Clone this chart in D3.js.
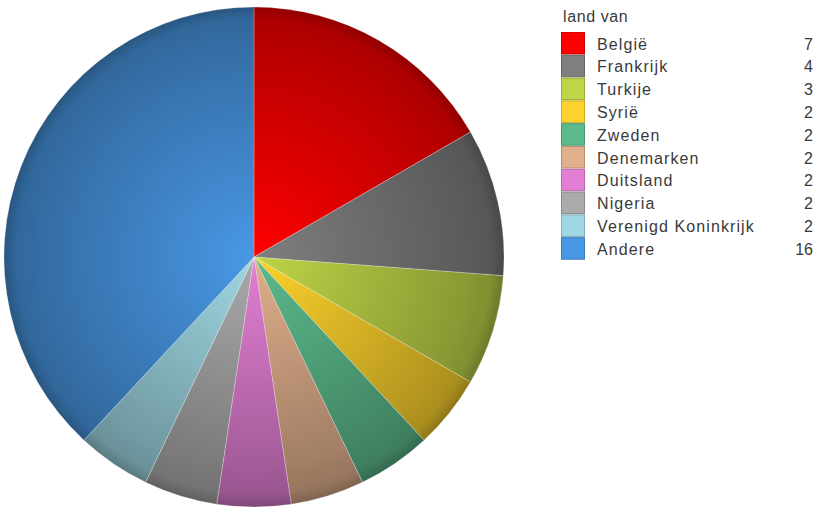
<!DOCTYPE html>
<html>
<head>
<meta charset="utf-8">
<script src="https://cdn.jsdelivr.net/npm/d3@7"></script>
<style>
  body { margin: 0; background: #fff; }
  svg text { font-family: "Liberation Sans", Arial, sans-serif; }
</style>
</head>
<body>
<script>
var countries = ['België', 'Frankrijk', 'Turkije', 'Syrië', 'Zweden', 'Denemarken', 'Duitsland', 'Nigeria', 'Verenigd Koninkrijk', 'Andere'];
var counts = [7, 4, 3, 2, 2, 2, 2, 2, 2, 16];
var colors = ['#ff0000', '#7f7f7f', '#bfd548', '#fcd22c', '#5cba8c', '#e0af8c', '#e27fd4', '#aaaaaa', '#9fd7e2', '#4998e5'];
var legendTitle = 'land van';

var width = 815, height = 509;
var cx = 254, cy = 257, R = 250;

var svg = d3.select('body').append('svg')
  .attr('width', width)
  .attr('height', height);

var defs = svg.append('defs');

// radial shading per slice: base colour in the middle, darker to the rim
colors.forEach(function (c, i) {
  var base = d3.color(c);
  var grad = defs.append('radialGradient')
    .attr('id', 'grad' + i)
    .attr('gradientUnits', 'userSpaceOnUse')
    .attr('cx', 0).attr('cy', 0).attr('r', R);
  grad.append('stop').attr('offset', 0).attr('stop-color', base);
  grad.append('stop').attr('offset', 0.5).attr('stop-color', base.darker(0.5));
  grad.append('stop').attr('offset', 0.84).attr('stop-color', base.darker(0.9));
  grad.append('stop').attr('offset', 0.95).attr('stop-color', base.darker(1.1));
  grad.append('stop').attr('offset', 1).attr('stop-color', base.darker(1.6));
});

var data = countries.map(function (d, i) { return { name: d, value: counts[i], idx: i }; });

var pie = d3.pie().sort(null).value(function (d) { return d.value; });
var arc = d3.arc().innerRadius(0).outerRadius(R);

var g = svg.append('g').attr('transform', 'translate(' + cx + ',' + cy + ')');

g.selectAll('path')
  .data(pie(data))
  .enter()
  .append('path')
  .attr('d', arc)
  .attr('fill', function (d) { return 'url(#grad' + d.data.idx + ')'; })
  .attr('stroke', 'rgba(255,255,255,0.3)')
  .attr('stroke-width', 0.8);

// legend
var lx = 561, ly = 32, rowH = 22.8;
var legend = svg.append('g');

legend.append('text')
  .attr('x', lx + 2)
  .attr('y', 22)
  .attr('font-size', 16)
  .attr('letter-spacing', 0.6)
  .attr('fill', '#3a3a3a')
  .text(legendTitle);

var rows = legend.selectAll('g.row')
  .data(data)
  .enter()
  .append('g')
  .attr('class', 'row')
  .attr('transform', function (d, i) { return 'translate(0,' + (ly + i * rowH) + ')'; });

rows.append('rect')
  .attr('x', lx + 0.5)
  .attr('y', 0.5)
  .attr('width', 23)
  .attr('height', 21.5)
  .attr('fill', function (d) { return colors[d.idx]; })
  .attr('stroke', function (d) { return d3.color(colors[d.idx]).darker(0.6); })
  .attr('stroke-width', 1);

rows.append('text')
  .attr('x', 597)
  .attr('y', 17.5)
  .attr('font-size', 16)
  .attr('letter-spacing', 1.1)
  .attr('fill', '#3a3a3a')
  .text(function (d) { return d.name; });

rows.append('text')
  .attr('x', 813)
  .attr('y', 17.5)
  .attr('font-size', 16)
  .attr('fill', '#3a3a3a')
  .attr('text-anchor', 'end')
  .text(function (d) { return d.value; });
</script>
</body>
</html>
